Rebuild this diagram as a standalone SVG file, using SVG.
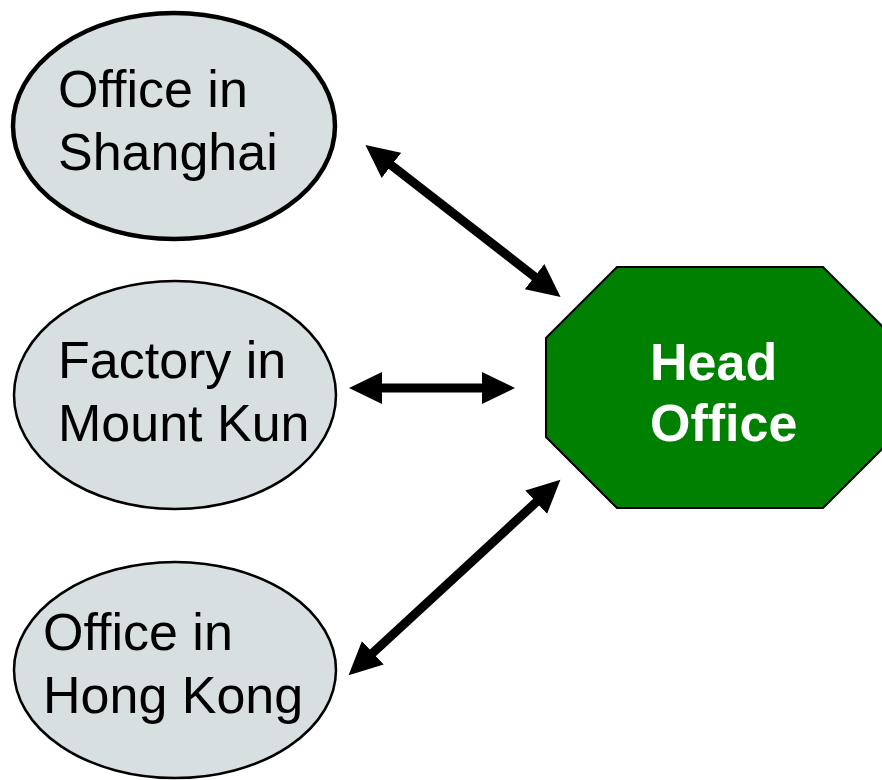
<svg xmlns="http://www.w3.org/2000/svg" width="882" height="780" viewBox="0 0 882 780">
<style>
.site{fill:#d7dfe0;stroke:#000}
.lbl{font-family:"Liberation Sans",Arial,sans-serif;font-size:52px;fill:#000}
.hq{font-family:"Liberation Sans",Arial,sans-serif;font-size:52px;font-weight:bold;fill:#fff}
.conn{stroke:#000;stroke-width:9;fill:none;marker-start:url(#ah);marker-end:url(#ah)}
</style>
<defs>
<marker id="ah" markerUnits="userSpaceOnUse" markerWidth="34" markerHeight="34" refX="12" refY="16" orient="auto-start-reverse" viewBox="0 0 34 32">
<path d="M0,0 L33,16 L0,32 z" fill="#000"/>
</marker>
</defs>
<rect width="882" height="780" fill="#fff"/>
<g id="shanghai">
<ellipse class="site" cx="174" cy="126" rx="161" ry="113" stroke-width="4.5"/>
<text class="lbl" x="58" y="107">Office in</text>
<text class="lbl" x="58" y="170">Shanghai</text>
</g>
<g id="factory">
<ellipse class="site" cx="175" cy="395" rx="161" ry="114" stroke-width="2.5"/>
<text class="lbl" x="58" y="378">Factory in</text>
<text class="lbl" x="58" y="441">Mount Kun</text>
</g>
<g id="hongkong">
<ellipse class="site" cx="175" cy="670" rx="161" ry="108" stroke-width="2.5"/>
<text class="lbl" x="43" y="650">Office in</text>
<text class="lbl" x="43" y="713">Hong Kong</text>
</g>
<g id="head-office">
<polygon points="617,267 823,267 894,338 894,437 823,508 617,508 546,437 546,338" fill="#008000" stroke="#000" stroke-width="2"/>
<text class="hq" x="650" y="380">Head</text>
<text class="hq" x="650" y="441">Office</text>
</g>
<g id="connectors">
<line class="conn" x1="382" y1="158" x2="544" y2="284"/>
<line class="conn" x1="370" y1="388" x2="494" y2="388"/>
<line class="conn" x1="545" y1="494" x2="364" y2="661"/>
</g>
</svg>
